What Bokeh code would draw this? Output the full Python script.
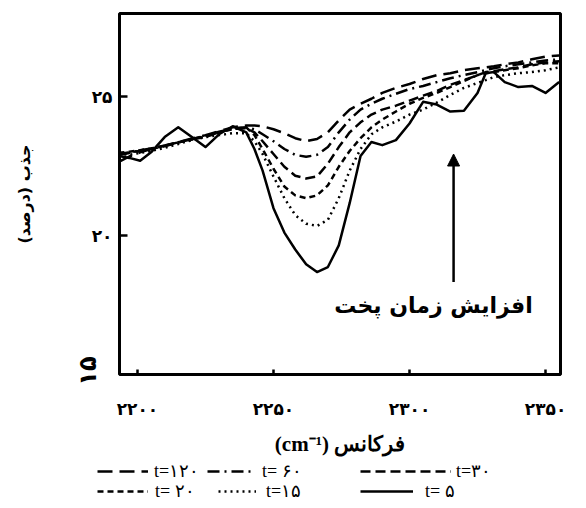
import math
from bokeh.plotting import figure
from bokeh.layouts import column
from bokeh.models import Legend, LegendItem, Label, Arrow, NormalHead, FixedTicker, LinearAxis
from bokeh.embed import file_html
from bokeh.resources import INLINE

# ---- data ----
wavenumber = [2193, 2197, 2201, 2205, 2210, 2215, 2220, 2225, 2230, 2235,
              2240, 2243, 2246, 2250, 2254, 2258, 2262, 2266, 2270, 2274,
              2278, 2282, 2286, 2290, 2295, 2300, 2305, 2310, 2315, 2320,
              2325, 2328, 2331, 2335, 2340, 2345, 2350, 2355]

t120 = [22.65, 22.85, 23.00, 23.12, 23.25, 23.37, 23.50, 23.62, 23.76, 23.90,
        23.97, 23.97, 23.94, 23.83, 23.69, 23.51, 23.40, 23.48, 23.72, 24.15,
        24.54, 24.75, 24.93, 25.14, 25.32, 25.46, 25.64, 25.78, 25.85, 25.96,
        26.03, 26.06, 26.10, 26.17, 26.24, 26.35, 26.45, 26.49]
t60 = [22.90, 22.98, 23.07, 23.14, 23.24, 23.36, 23.47, 23.60, 23.74, 23.87,
       23.90, 23.83, 23.65, 23.40, 23.12, 22.91, 22.84, 22.91, 23.19, 23.72,
       24.18, 24.54, 24.75, 24.93, 25.11, 25.28, 25.39, 25.53, 25.67, 25.78,
       25.89, 25.96, 26.03, 26.10, 26.17, 26.24, 26.31, 26.35]
t30 = [22.94, 23.00, 23.05, 23.12, 23.22, 23.35, 23.48, 23.58, 23.72, 23.85,
       23.87, 23.72, 23.40, 22.94, 22.48, 22.16, 22.06, 22.13, 22.59, 23.19,
       23.72, 24.08, 24.36, 24.54, 24.68, 24.86, 25.04, 25.21, 25.43, 25.60,
       25.78, 25.89, 25.92, 25.99, 26.06, 26.17, 26.24, 26.28]
t20 = [22.98, 23.02, 23.08, 23.14, 23.23, 23.36, 23.46, 23.56, 23.70, 23.84,
       23.90, 23.62, 23.12, 22.41, 21.77, 21.45, 21.35, 21.45, 21.81, 22.48,
       23.05, 23.51, 23.90, 24.18, 24.47, 24.75, 24.96, 25.14, 25.35, 25.57,
       25.78, 25.85, 25.89, 25.96, 26.03, 26.13, 26.21, 26.21]
t15 = [22.94, 22.91, 22.98, 23.05, 23.16, 23.30, 23.44, 23.55, 23.62, 23.69,
       23.69, 23.40, 22.94, 22.13, 21.35, 20.74, 20.43, 20.35, 20.57, 21.35,
       22.34, 23.12, 23.65, 23.90, 24.11, 24.36, 24.54, 24.79, 25.07, 25.32,
       25.50, 25.60, 25.71, 25.78, 25.85, 25.89, 25.96, 26.06]
t5 = [22.87, 22.80, 22.70, 23.00, 23.55, 23.90, 23.55, 23.19, 23.65, 23.94,
      23.72, 23.12, 22.34, 20.99, 20.11, 19.50, 18.97, 18.69, 18.87, 19.65,
      21.17, 22.87, 23.37, 23.26, 23.44, 24.04, 24.82, 24.72, 24.47, 24.50,
      25.14, 25.85, 25.89, 25.53, 25.35, 25.39, 25.14, 25.53]

series = [t120, t60, t30, t20, t15, t5]
series_labels = ["t=۱۲۰", "t= ۶۰", "t=۳۰", "t= ۲۰", "t=۱۵", "t= ۵"]
series_dash = ["15 7", "12 5 2 5", "10 5", "6 4", "2 4", "solid"]

x_tick_values = [2200, 2250, 2300, 2350]
x_tick_labels = ["۲۲۰۰", "۲۲۵۰", "۲۳۰۰", "۲۳۵۰"]
y_tick_values = [20, 25]
y_tick_labels = ["۲۰", "۲۵"]
y_low_label = "۱۵"

x_title = "\u202bفرکانس (cm⁻¹)\u202c"
y_title = "\u200fجذب (درصد)\u200f"
arrow_text = "افزایش زمان پخت"

# ---- main figure ----
p = figure(width=586, height=458, x_range=(2193.4, 2355.5), y_range=(15, 28),
           output_backend="svg", toolbar_location=None,
           min_border_left=119, min_border_right=26,
           min_border_top=13, min_border_bottom=81)
p.frame_align = False
p.grid.visible = False
p.outline_line_color = "black"
p.outline_line_width = 3
p.outline_line_alpha = 1.0
p.background_fill_color = "white"
p.border_fill_color = "white"

p.xaxis.ticker = FixedTicker(ticks=x_tick_values)
p.xaxis.major_label_overrides = {v: l for v, l in zip(x_tick_values, x_tick_labels)}
p.yaxis.ticker = FixedTicker(ticks=y_tick_values)
p.yaxis.major_label_overrides = {v: l for v, l in zip(y_tick_values, y_tick_labels)}
for ax in (p.xaxis[0], p.yaxis[0]):
    ax.axis_line_color = None
    ax.major_tick_in = 8
    ax.major_tick_out = 0
    ax.major_tick_line_width = 2.5
    ax.minor_tick_line_color = None
    ax.major_label_text_font = "DejaVu Sans"
    ax.major_label_text_font_style = "bold"
    ax.major_label_text_font_size = "17px"
    ax.major_label_text_color = "black"
p.xaxis.major_tick_in = 5
p.xaxis.major_label_standoff = 24
p.yaxis.major_label_standoff = 7

p.xaxis.axis_label = x_title
p.xaxis.axis_label_standoff = 10
p.xaxis.axis_label_text_font = "Liberation Serif"
p.xaxis.axis_label_text_font_style = "bold"
p.xaxis.axis_label_text_font_size = "21px"
p.xaxis.axis_label_text_color = "black"

# second, outer left axis: the rotated lowest label (placed at the frame's
# bottom corner, as in the original) and the axis title
low_label_pos = 15.65
y2 = LinearAxis(ticker=FixedTicker(ticks=[low_label_pos]),
                major_label_overrides={low_label_pos: y_low_label},
                major_label_orientation=math.pi / 2,
                major_label_standoff=0,
                major_tick_in=0, major_tick_out=0,
                minor_tick_line_color=None, axis_line_color=None,
                major_label_text_font="DejaVu Sans",
                major_label_text_font_style="bold",
                major_label_text_font_size="24px",
                major_label_text_color="black",
                axis_label=y_title, axis_label_standoff=24,
                axis_label_text_font="DejaVu Sans",
                axis_label_text_font_style="bold",
                axis_label_text_font_size="16px",
                axis_label_text_color="black")
p.add_layout(y2, "left")

base = dict(line_color="black", line_width=2.5, line_join="round")
for ys, dash in zip(series, series_dash):
    p.line(wavenumber, ys, line_dash=dash, **base)

# arrow + annotation
p.add_layout(Arrow(end=NormalHead(size=12, fill_color="black", line_color="black"),
                   x_start=2316.2, y_start=18.33, x_end=2316.2, y_end=22.94,
                   line_width=2.5, line_color="black"))
p.add_layout(Label(x=2308.8, y=17.5, text=arrow_text, text_align="center",
                   text_baseline="middle", text_font="DejaVu Sans",
                   text_font_style="bold", text_font_size="22px",
                   text_color="black"))

# ---- legend strip under the chart ----
lg = figure(width=586, height=50, x_range=(0, 1), y_range=(0, 1),
            output_backend="svg", toolbar_location=None,
            x_axis_location=None, y_axis_location=None,
            min_border=0, min_border_left=0, min_border_right=0,
            min_border_top=0, min_border_bottom=0)
lg.frame_align = False
lg.grid.visible = False
lg.outline_line_color = None
lg.background_fill_color = "white"
lg.border_fill_color = "white"

item_x = [97, 207, 360, 97, 218, 360]
item_y = [26, 26, 26, 6, 6, 6]
item_w = [51, 46, 91, 51, 38, 53]
item_gap = [6, 9, 5, 7, 10, 12]
for i, (ys, dash) in enumerate(zip(series, series_dash)):
    r = lg.line(wavenumber, ys, line_dash=dash, visible=False, **base)
    leg = Legend(items=[LegendItem(label=series_labels[i], renderers=[r])],
                 location=(item_x[i], item_y[i]), orientation="vertical",
                 border_line_alpha=0, background_fill_alpha=0,
                 inactive_fill_alpha=0,
                 padding=0, margin=0, spacing=0,
                 glyph_width=item_w[i], glyph_height=20, label_height=20,
                 label_standoff=item_gap[i], label_text_font_size="18px",
                 label_text_font="Liberation Serif", label_text_color="black")
    lg.add_layout(leg)

layout = column(p, lg, spacing=0)
open("out.html", "w").write(file_html(layout, INLINE))
